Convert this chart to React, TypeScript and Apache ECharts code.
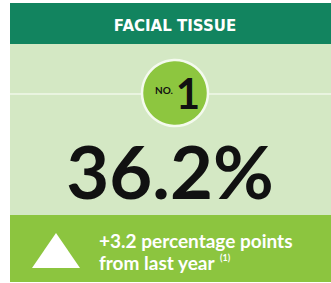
import React, { useEffect, useRef } from "react";
import * as echarts from "echarts";

const categories = ["FACIAL TISSUE"];
const ranks = [1];
const shareValues = [36.2];
const changeValues = [3.2];
const footnotes = ["(1)"];

export default function App() {
  const ref = useRef<HTMLDivElement>(null);
  useEffect(() => {
    if (!ref.current) return;
    const chart = echarts.init(ref.current, null, { renderer: "svg" });
    const W = 331;
    const share = shareValues[0];
    const change = changeValues[0];
    const font = '"Lato", "Liberation Sans", sans-serif';
    chart.setOption({
      animation: false,
      graphic: [
        { type: "rect", shape: { x: 10, y: 3, width: W - 10, height: 41 }, style: { fill: "#12845f" } },
        { type: "rect", shape: { x: 10, y: 44, width: W - 10, height: 171 }, style: { fill: "#d4e8c4" } },
        { type: "rect", shape: { x: 10, y: 215, width: W - 10, height: 67 }, style: { fill: "#8cc53f" } },
        {
          type: "text", x: 175, y: 26,
          style: { text: categories[0], font: 'bold 15px "DejaVu Sans", sans-serif', fill: "#ffffff", align: "center", verticalAlign: "middle" },
        },
        { type: "line", shape: { x1: 10, y1: 94, x2: W, y2: 94 }, style: { stroke: "#f1f8ea", lineWidth: 1.5 } },
        { type: "circle", shape: { cx: 175, cy: 93, r: 33 }, style: { fill: "#8dc63f", stroke: "#f4faee", lineWidth: 2.5 } },
        {
          type: "text", x: 173, y: 90,
          style: { text: "NO.", font: `bold 10px ${font}`, fill: "#111111", align: "right", verticalAlign: "middle" },
        },
        {
          type: "text", x: 188, y: 93,
          style: { text: String(ranks[0]), font: `bold 42px ${font}`, fill: "#111111", align: "center", verticalAlign: "middle" },
        },
        {
          type: "text", x: 170, y: 171, scaleX: 1.03,
          style: { text: `${share.toFixed(1)}%`, font: `bold 72px ${font}`, fill: "#111111", align: "center", verticalAlign: "middle" },
        },
        { type: "polygon", shape: { points: [[32, 268], [80, 268], [56, 233]] }, style: { fill: "#ffffff" } },
        {
          type: "text", x: 99, y: 240,
          style: { text: `+${change.toFixed(1)} percentage points`, font: `bold 19px ${font}`, fill: "#ffffff", align: "left", verticalAlign: "middle" },
        },
        {
          type: "text", x: 99, y: 262,
          style: { text: "from last year", font: `bold 19px ${font}`, fill: "#ffffff", align: "left", verticalAlign: "middle" },
        },
        {
          type: "text", x: 220, y: 257,
          style: { text: footnotes[0], font: `bold 9px ${font}`, fill: "#ffffff", align: "left", verticalAlign: "middle" },
        },
      ],
    });
    return () => chart.dispose();
  }, []);
  return <div ref={ref} style={{ position: "absolute", left: 0, top: 0, width: 331, height: 283 }} />;
}
